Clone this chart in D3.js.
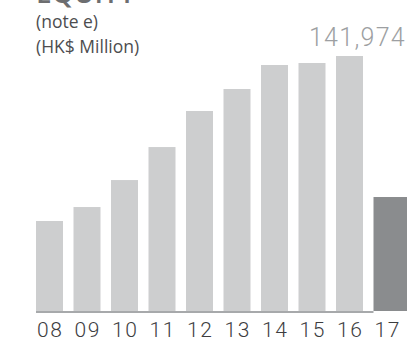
<!DOCTYPE html>
<html>
<head>
<meta charset="utf-8">
<script src="https://cdn.jsdelivr.net/npm/d3@7"></script>
<style>
  html, body { margin: 0; padding: 0; background: #fff; }
  svg { display: block; }
  text { font-family: Roboto, "Noto Sans", sans-serif; }
</style>
</head>
<body>
<svg id="chart" width="407" height="346"></svg>
<script>
// Equity, HK$ million, financial years 2008–2017
const years = ["08", "09", "10", "11", "12", "13", "14", "15", "16", "17"];
const equity = [112100, 129500, 163100, 204200, 249100, 276500, 306400, 308900, 317600, 141974];
const currentYear = "17";
const headlineValue = 141974;

const titleText = "EQUITY";
const noteText = "(note e)";
const unitText = "(HK$ Million)";

const svg = d3.select("#chart");
const W = 407;
const LIGHT = "Roboto, 'Noto Sans', sans-serif";
const SANS = "'Open Sans', Roboto, sans-serif";

const x = d3.scaleBand()
  .domain(years)
  .range([36, 400.5])
  .paddingInner(0.28)
  .paddingOuter(0);

const y = d3.scaleLinear()
  .domain([0, 350000])
  .range([311, 30]);

const data = years.map((yr, i) => ({ year: yr, value: equity[i] }));

// title, partly above the top edge
svg.append("text")
  .attr("x", 36)
  .attr("y", 3)
  .attr("font-size", 28)
  .attr("font-weight", 600)
  .attr("fill", "#6d6e70")
  .style("font-family", SANS)
  .text(titleText);

svg.append("text")
  .attr("x", 36)
  .attr("y", 28)
  .attr("font-size", 17.5)
  .attr("fill", "#4d4d4f")
  .style("font-family", SANS)
  .text(noteText);

svg.append("text")
  .attr("x", 36)
  .attr("y", 53)
  .attr("font-size", 17.5)
  .attr("fill", "#4d4d4f")
  .style("font-family", SANS)
  .text(unitText);

// bars
svg.append("g")
  .selectAll("rect")
  .data(data)
  .join("rect")
  .attr("x", d => x(d.year))
  .attr("y", d => y(d.value))
  .attr("width", d => d.year === currentYear ? W - x(d.year) : x.bandwidth())
  .attr("height", d => y(0) - y(d.value))
  .attr("fill", d => d.year === currentYear ? "#8a8c8e" : "#cdcecf");

// baseline
svg.append("line")
  .attr("x1", x(years[0]))
  .attr("x2", x(currentYear))
  .attr("y1", y(0) + 1)
  .attr("y2", y(0) + 1)
  .attr("stroke", "#a7a9ab")
  .attr("stroke-width", 2);

// year labels via bottom axis
const xAxis = svg.append("g")
  .attr("transform", `translate(0, ${y(0)})`)
  .call(d3.axisBottom(x).tickSize(0).tickPadding(11));
xAxis.select(".domain").remove();
xAxis.selectAll("text")
  .attr("font-size", 21)
  .attr("font-weight", 300)
  .attr("fill", "#3d3d3f")
  .attr("dx", 0.8)
  .style("letter-spacing", "1.6px")
  .style("font-family", LIGHT);

// headline value of the current year
svg.append("text")
  .attr("x", 406)
  .attr("y", 46)
  .attr("text-anchor", "end")
  .attr("font-size", 25)
  .attr("font-weight", 300)
  .attr("fill", "#9d9fa2")
  .style("letter-spacing", "1.3px")
  .style("font-family", LIGHT)
  .text(d3.format(",")(headlineValue));
</script>
</body>
</html>
